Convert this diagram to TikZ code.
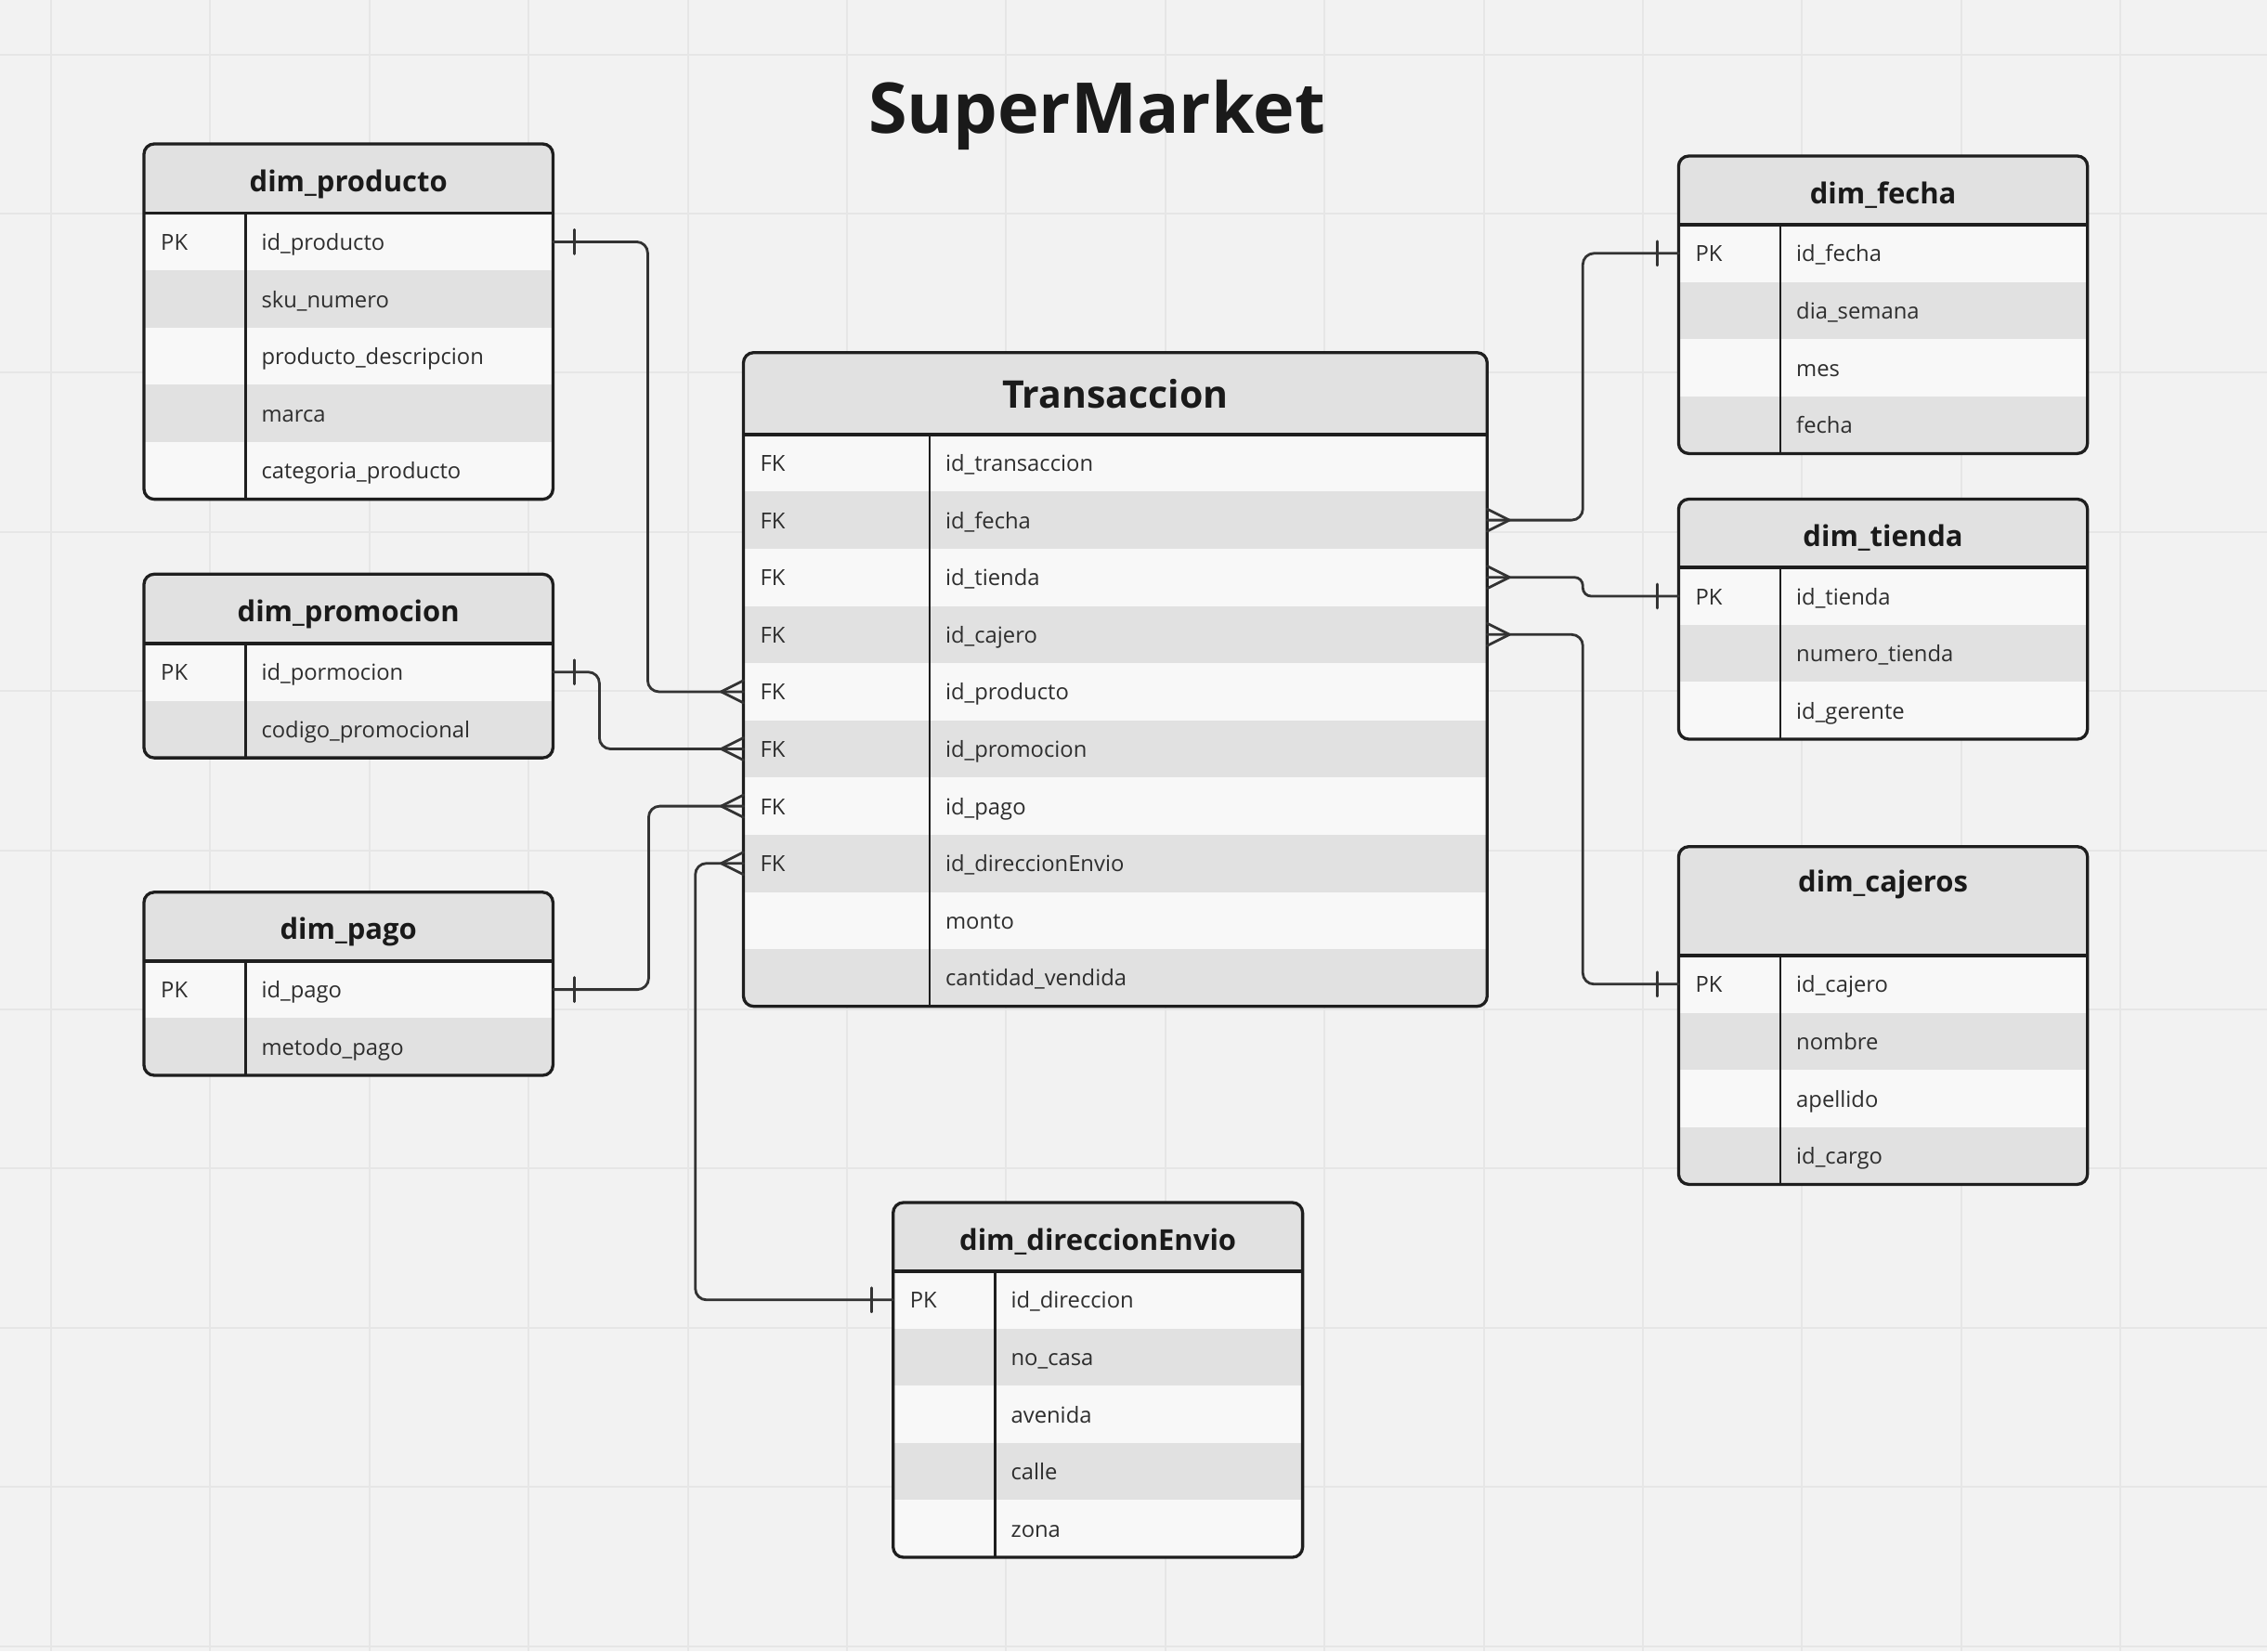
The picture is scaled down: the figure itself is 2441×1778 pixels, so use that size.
\documentclass[tikz,border=0pt]{standalone}
\usepackage{fontspec}
\setmainfont{Open Sans}
\definecolor{bg}{HTML}{F2F2F2}
\definecolor{gridc}{HTML}{E6E6E6}
\definecolor{rowa}{HTML}{F8F8F8}
\definecolor{rowb}{HTML}{E1E1E1}
\definecolor{hdrc}{HTML}{E1E1E1}
\definecolor{edgec}{HTML}{1E1E1E}
\definecolor{linec}{HTML}{333333}
\definecolor{txt}{HTML}{2E2E2E}
\definecolor{ttl}{HTML}{1A1A1A}

\newcommand\fldfont{\fontsize{23.8}{28}\selectfont}
\newcommand\hdrfont{\fontsize{31}{36}\selectfont\bfseries}
\newcommand\bigfont{\fontsize{41}{48}\selectfont\bfseries}

\tikzset{
 conn/.style={draw=linec, line width=2.8pt, line cap=round, line join=round},
 fld/.style={inner sep=0pt, anchor=base west, text=txt, font=\fldfont},
 ttlnode/.style={inner sep=0pt, anchor=base, text=ttl},
 rowbox/.style={inner sep=0pt, outer sep=0pt, draw=none},
 gridline/.style={draw=gridc, line width=2pt},
}

\newcommand\ertable[9]{%
 \foreach \k/\f [count=\i] in {#9} {\xdef\ernrows{\i}}%
 \pgfmathsetmacro\erH{#4+#5}%
 \pgfmathsetmacro\erB{\erH+\ernrows*61.6}%
 \begin{scope}
  \clip[rounded corners=11pt] (#2,#4) rectangle (#3,\erB);
  \fill[hdrc] (#2,#4) rectangle (#3,\erH);
  \foreach \k/\f [count=\i] in {#9} {
   \pgfmathsetmacro\ya{\erH+(\i-1)*61.6}
   \pgfmathsetmacro\yb{\ya+61.6}
   \ifodd\i \fill[rowa] (#2,\ya) rectangle (#3,\yb); \else \fill[rowb] (#2,\ya) rectangle (#3,\yb); \fi
  }
 \end{scope}
 \node[ttlnode] (#1-title) at ({(#2+#3)/2},{#4+#8}) {#7};
 \foreach \k/\f [count=\i] in {#9} {
   \pgfmathsetmacro\yc{\erH+(\i-0.5)*61.6}
   \pgfmathsetmacro\rw{#3-#2}
   \node[rowbox, minimum width=\rw pt, minimum height=61.6pt] (#1-r\i) at ({(#2+#3)/2},\yc) {};
   \node[fld] (#1-k\i) at ({#2+18},{\yc+9}) {\k};
   \node[fld] (#1-f\i) at ({#6+17},{\yc+9}) {\f};
 }
 \draw[edgec, line width=2.8pt] (#6,\erH) -- (#6,\erB);
 \draw[edgec, line width=3.6pt] (#2,\erH) -- (#3,\erH);
 \draw[edgec, line width=3.3pt, rounded corners=11pt] (#2,#4) rectangle (#3,\erB);
}

\newcommand\barmark[2]{\draw[conn] ([xshift=#2]#1) ++(0,13) -- ++(0,-26);}
\newcommand\crowmark[2]{\draw[conn] ([yshift=12pt]#1) -- ([xshift=#2]#1) -- ([yshift=-12pt]#1);}

\begin{document}
\begin{tikzpicture}[x=1pt,y=-1pt]
\useasboundingbox (0,0) rectangle (2441,1778);
\fill[bg] (0,0) rectangle (2441,1778);
\foreach \g in {0,...,13} {\draw[gridline] ({55+\g*171.4},0) -- ({55+\g*171.4},1778);}
\foreach \g in {0,...,10} {\draw[gridline] (0,{58.5+\g*171.4}) -- (2441,{58.5+\g*171.4});}

\node[ttlnode, font=\fontsize{75.5}{90}\selectfont\bfseries] (title) at (1181,143.3) {SuperMarket};

\ertable{prod}{155}{595.4}{155}{74.6}{264.3}{\hdrfont dim\_producto}{51}{PK/id\_producto, /sku\_numero, /producto\_descripcion, /marca, /categoria\_producto}
\ertable{promo}{155}{595.4}{618.3}{74.6}{264.3}{\hdrfont dim\_promocion}{51}{PK/id\_pormocion, /codigo\_promocional}
\ertable{pago}{155}{595.4}{960.8}{74}{264.3}{\hdrfont dim\_pago}{51}{PK/id\_pago, /metodo\_pago}
\ertable{trans}{800.5}{1601.3}{379.7}{88}{1000.9}{\bigfont Transaccion}{60}{FK/id\_transaccion, FK/id\_fecha, FK/id\_tienda, FK/id\_cajero, FK/id\_producto, FK/id\_promocion, FK/id\_pago, FK/id\_direccionEnvio, /monto, /cantidad\_vendida}
\ertable{fecha}{1807.4}{2247.7}{168}{74}{1917}{\hdrfont dim\_fecha}{51}{PK/id\_fecha, /dia\_semana, /mes, /fecha}
\ertable{tienda}{1807.4}{2247.7}{537.5}{73.7}{1917}{\hdrfont dim\_tienda}{51}{PK/id\_tienda, /numero\_tienda, /id\_gerente}
\ertable{caj}{1807.4}{2247.7}{911.7}{117.3}{1917}{\hdrfont dim\_cajeros}{49}{PK/id\_cajero, /nombre, /apellido, /id\_cargo}
\ertable{dir}{961.7}{1402.6}{1295}{74}{1071.4}{\hdrfont dim\_direccionEnvio}{51}{PK/id\_direccion, /no\_casa, /avenida, /calle, /zona}

% connectors
\draw[conn, rounded corners=12pt] (prod-r1.east) -- ++(102,0) |- (trans-r5.west);
\draw[conn, rounded corners=12pt] (promo-r1.east) -- ++(50,0) |- (trans-r6.west);
\draw[conn, rounded corners=12pt] (pago-r1.east) -- ++(103,0) |- (trans-r7.west);
\draw[conn, rounded corners=12pt] (dir-r1.west) -- ++(-213,0) |- (trans-r8.west);
\draw[conn, rounded corners=12pt] (trans-r2.east) -- ++(103,0) |- (fecha-r1.west);
\draw[conn, rounded corners=9pt] (trans-r3.east) -- ++(103,0) |- (tienda-r1.west);
\draw[conn, rounded corners=12pt] (trans-r4.east) -- ++(103,0) |- (caj-r1.west);

\barmark{prod-r1.east}{23pt}
\barmark{promo-r1.east}{23pt}
\barmark{pago-r1.east}{23pt}
\barmark{dir-r1.west}{-23pt}
\barmark{fecha-r1.west}{-23pt}
\barmark{tienda-r1.west}{-23pt}
\barmark{caj-r1.west}{-23pt}

\crowmark{trans-r5.west}{-24pt}
\crowmark{trans-r6.west}{-24pt}
\crowmark{trans-r7.west}{-24pt}
\crowmark{trans-r8.west}{-24pt}
\crowmark{trans-r2.east}{24pt}
\crowmark{trans-r3.east}{24pt}
\crowmark{trans-r4.east}{24pt}
\end{tikzpicture}
\end{document}
